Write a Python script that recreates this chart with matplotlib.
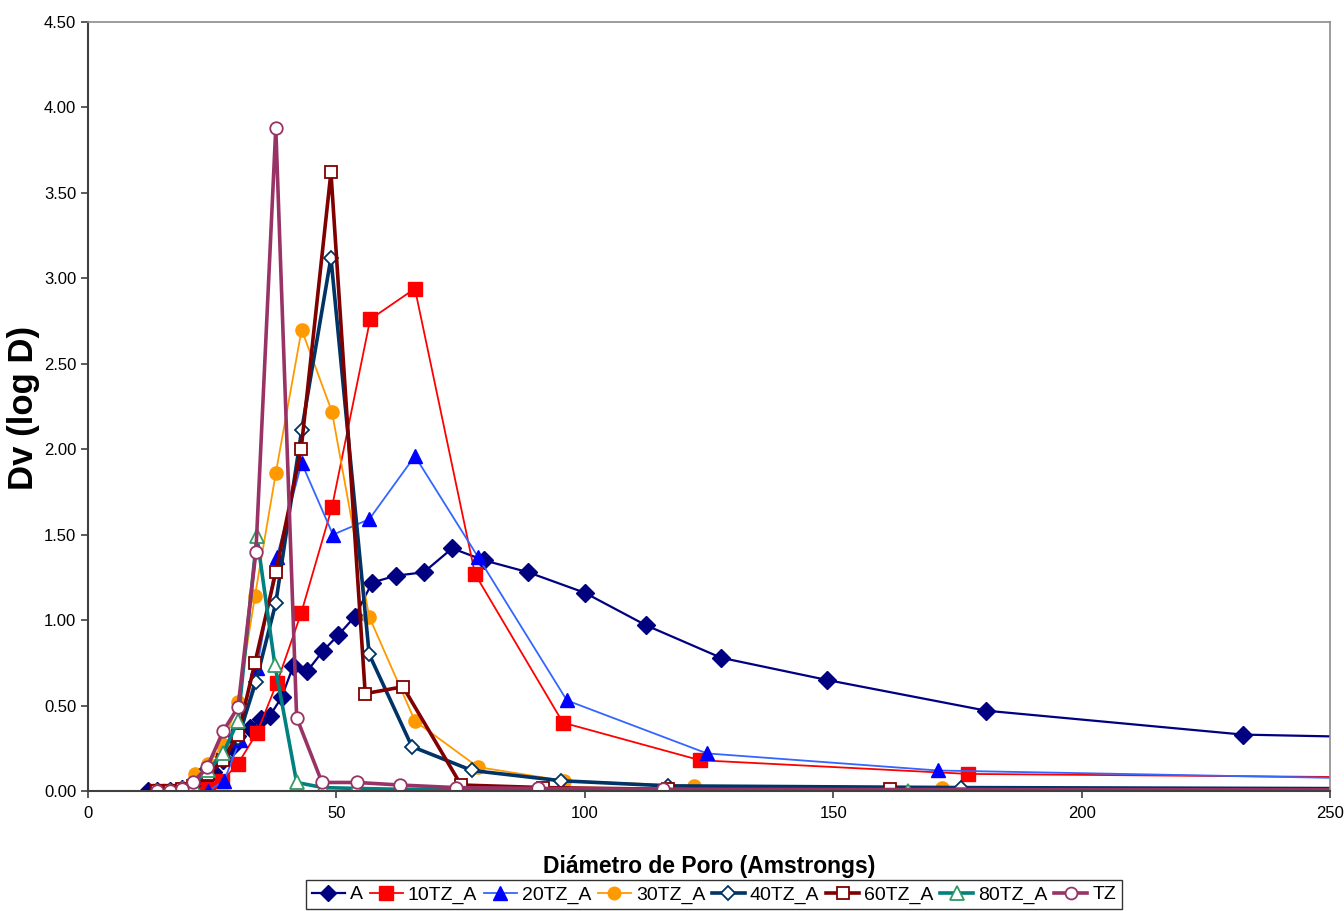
import matplotlib
matplotlib.use("Agg")
import matplotlib.pyplot as plt
from matplotlib.ticker import FormatStrFormatter

plt.rcParams['font.family'] = ['Liberation Sans', 'DejaVu Sans']

# ---------------- data ----------------
x_A = [12.0, 13.9, 16.5, 18.9, 21.1, 23.2, 25.2, 27.2, 29.0, 30.0, 32.6, 34.8, 36.6, 39.0, 41.3,
       44.1, 47.3, 50.3, 53.7, 57.2, 62.0, 67.6, 73.3, 79.7, 88.6, 100.0, 112.3, 127.4, 148.7,
       180.8, 232.5, 300.0]
y_A = [0.0, 0.0, 0.0, 0.01, 0.02, 0.06, 0.11, 0.18, 0.26, 0.32, 0.37, 0.42, 0.44, 0.55, 0.73,
       0.70, 0.82, 0.91, 1.02, 1.22, 1.26, 1.28, 1.42, 1.35, 1.28, 1.16, 0.97, 0.78, 0.65,
       0.47, 0.33, 0.29]

x_10 = [13.9, 16.5, 18.9, 21.1, 24.2, 27.0, 30.2, 34.0, 38.0, 42.9, 49.1, 56.8, 65.8, 77.9,
        95.6, 123.2, 177.1, 300.0]
y_10 = [0.0, 0.0, 0.0, 0.0, 0.01, 0.06, 0.16, 0.34, 0.63, 1.04, 1.66, 2.76, 2.94, 1.27,
        0.40, 0.18, 0.10, 0.07]

x_20 = [13.9, 16.5, 18.9, 21.1, 24.2, 27.4, 30.6, 34.0, 38.0, 43.0, 49.3, 56.6, 65.8, 78.5,
        96.4, 124.6, 171.1, 300.0]
y_20 = [0.0, 0.0, 0.0, 0.0, 0.0, 0.06, 0.30, 0.72, 1.37, 1.92, 1.50, 1.59, 1.96, 1.37,
        0.53, 0.22, 0.12, 0.05]

x_30 = [13.9, 16.5, 18.9, 21.5, 24.2, 27.2, 30.2, 33.6, 37.8, 43.0, 49.1, 56.6, 65.8, 78.5,
        95.8, 122.0, 171.9, 300.0]
y_30 = [0.0, 0.0, 0.02, 0.10, 0.16, 0.27, 0.52, 1.14, 1.86, 2.70, 2.22, 1.02, 0.41, 0.14,
        0.06, 0.03, 0.02, 0.01]

x_40 = [13.9, 16.5, 18.9, 21.1, 24.0, 27.2, 30.2, 33.8, 37.8, 43.0, 48.9, 56.6, 65.2, 77.3,
        95.2, 116.7, 175.7, 300.0]
y_40 = [0.0, 0.0, 0.01, 0.03, 0.13, 0.20, 0.31, 0.64, 1.10, 2.11, 3.12, 0.80, 0.26, 0.12,
        0.06, 0.03, 0.02, 0.01]

x_60 = [13.9, 16.5, 18.9, 21.1, 24.2, 27.2, 30.2, 33.6, 37.8, 42.9, 48.9, 55.8, 63.4, 75.1,
        91.6, 116.7, 161.4, 300.0]
y_60 = [0.0, 0.0, 0.01, 0.03, 0.10, 0.18, 0.33, 0.75, 1.28, 2.00, 3.62, 0.57, 0.61, 0.035,
        0.02, 0.01, 0.01, 0.01]

x_80 = [13.9, 16.5, 18.9, 21.1, 24.2, 27.2, 30.2, 34.0, 37.6, 42.0, 47.3, 54.0, 62.8, 74.0,
        90.6, 116.0, 165.0, 300.0]
y_80 = [0.0, 0.0, 0.01, 0.04, 0.12, 0.22, 0.41, 1.49, 0.74, 0.05, 0.02, 0.015, 0.01, 0.01,
        0.005, 0.005, 0.0, 0.0]

x_TZ = [13.9, 16.5, 18.9, 21.1, 24.0, 27.2, 30.2, 33.8, 37.8, 42.0, 47.1, 54.1, 62.8, 74.0,
        90.6, 115.7, 300.0]
y_TZ = [0.0, 0.0, 0.01, 0.05, 0.14, 0.35, 0.49, 1.40, 3.88, 0.43, 0.05, 0.05, 0.035, 0.02,
        0.015, 0.01, 0.005]

labels = ["A", "10TZ_A", "20TZ_A", "30TZ_A", "40TZ_A", "60TZ_A", "80TZ_A", "TZ"]
x_ticks = [0, 50, 100, 150, 200, 250]
y_ticks = [0.0, 0.5, 1.0, 1.5, 2.0, 2.5, 3.0, 3.5, 4.0, 4.5]

# ---------------- figure ----------------
fig = plt.figure(figsize=(13.44, 9.11), dpi=100)
ax = fig.add_axes([88/1344, 1-791/911, (1330-88)/1344, (791-22)/911])

series = [
    (x_A, y_A, dict(color="#000080", lw=1.6, marker="D", ms=9, mfc="#000080", mec="#000080")),
    (x_10, y_10, dict(color="#FF0000", lw=1.3, marker="s", ms=10, mfc="#FF0000", mec="#FF0000")),
    (x_20, y_20, dict(color="#3366FF", lw=1.3, marker="^", ms=10, mfc="#0000FF", mec="#0000FF")),
    (x_30, y_30, dict(color="#FF9900", lw=1.3, marker="o", ms=9.5, mfc="#FF9900", mec="#FF9900")),
    (x_40, y_40, dict(color="#003366", lw=2.6, marker="D", ms=7.5, mfc="white", mec="#003366", mew=1.3)),
    (x_60, y_60, dict(color="#800000", lw=2.6, marker="s", ms=9, mfc="white", mec="#800000", mew=1.3)),
    (x_80, y_80, dict(color="#008080", lw=2.6, marker="^", ms=10, mfc="white", mec="#339966", mew=1.3)),
    (x_TZ, y_TZ, dict(color="#993366", lw=2.6, marker="o", ms=9, mfc="white", mec="#993366", mew=1.3)),
]
handles = []
for (xs, ys, st), lab in zip(series, labels):
    h, = ax.plot(xs, ys, label=lab, **st)
    handles.append(h)

ax.set_xlim(0, 250)
ax.set_ylim(0, 4.5)
ax.set_xticks(x_ticks)
ax.set_yticks(y_ticks)
ax.yaxis.set_major_formatter(FormatStrFormatter("%.2f"))
ax.tick_params(axis="both", direction="out", length=5, width=1.2, colors="#404040",
               labelcolor="black", labelsize=12)
ax.tick_params(axis="x", pad=6)
for s in ["left", "bottom"]:
    ax.spines[s].set_color("#404040")
    ax.spines[s].set_linewidth(1.5)
for s in ["top", "right"]:
    ax.spines[s].set_color("#8c8c8c")
    ax.spines[s].set_linewidth(1.2)

fig.text(709/1344, 1-866/911, "Diámetro de Poro (Amstrongs)", ha="center", va="center",
         fontsize=16.5, fontweight="bold")
fig.text(24/1344, 1-408/911, "Dv (log D)", ha="center", va="center", rotation=90,
         fontsize=25, fontweight="bold")

leg = fig.legend(handles=handles, labels=labels, loc="upper center",
                 bbox_to_anchor=(714/1344, 1-880/911), ncol=8, fontsize=14,
                 frameon=True, fancybox=False, edgecolor="black", borderaxespad=0,
                 handlelength=1.7, handletextpad=0.25, columnspacing=0.35, borderpad=0.3,
                 markerscale=0.95)
leg.get_frame().set_linewidth(1.0)

fig.savefig("out.png", dpi=100)
